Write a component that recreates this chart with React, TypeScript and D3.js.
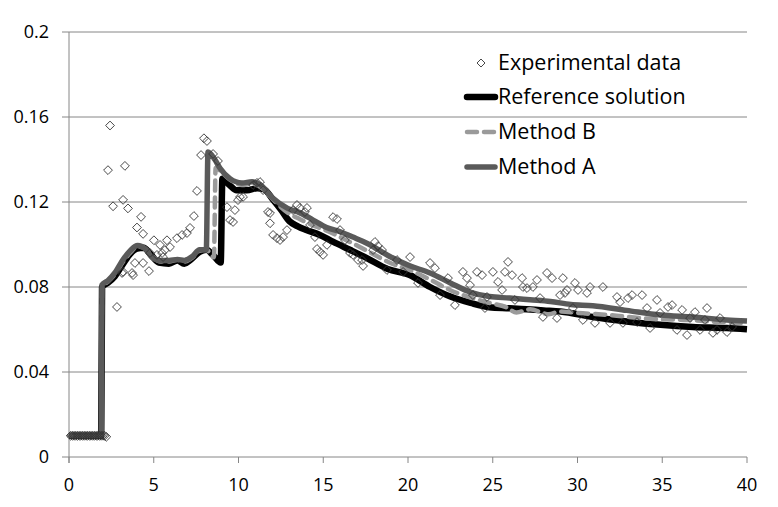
import React from "react";
import * as d3 from "d3";

// ---------- DATA ----------
const xTicks = [0, 5, 10, 15, 20, 25, 30, 35, 40];
const yTicks = [0, 0.04, 0.08, 0.12, 0.16, 0.2];
const yTickLabels = ["0", "0.04", "0.08", "0.12", "0.16", "0.2"];

const seriesNames = ["Experimental data", "Reference solution", "Method B", "Method A"];

const expX = [
  0.1, 0.2, 0.3, 0.4, 0.5, 0.6, 0.7, 0.8, 0.9, 1.0, 1.1, 1.2, 1.3, 1.4, 1.5, 1.6, 1.7, 1.8, 1.9, 2.0, 2.1, 2.2,
  2.42, 2.3, 3.3, 2.6, 3.19, 3.48, 4.25, 4.01, 4.37, 5.01, 5.37, 5.78, 5.96, 5.66, 6.37, 6.67, 6.96, 7.14, 7.37,
  7.55, 7.96, 8.14, 7.79, 8.5, 8.79, 9.32, 9.5, 9.68, 9.79, 9.97, 10.27, 10.86, 11.09, 11.27, 11.45,
  2.83, 3.78, 3.89, 3.19, 4.72, 4.37, 5.19, 5.55, 4.78, 5.49, 3.72, 3.13,
  10.09, 11.86, 11.86, 12.04, 12.27, 12.45, 12.63, 12.86, 13.22, 13.45, 13.63, 13.92, 14.04, 11.74,
  14.22, 14.51, 14.63, 14.81, 14.99, 15.22, 15.58, 15.81, 15.99, 16.28, 16.58, 16.76, 17.05, 17.29, 17.35,
  18.05, 18.23, 18.47, 17.94, 18.76, 19.35, 19.71, 20.12, 20.59, 21.3, 21.59, 21.89, 22.36, 22.77,
  23.24, 23.48, 23.66, 23.83, 24.07, 24.37, 24.54, 24.66, 25.01, 25.31, 25.55, 25.72, 25.9, 26.14, 26.31,
  26.73, 26.78, 27.02, 27.37, 27.61, 27.79, 27.96, 28.2, 28.5, 28.79, 28.97, 29.14, 29.38, 29.26, 29.85,
  30.03, 30.56, 30.74, 31.5, 29.73, 30.32, 31.03, 31.92, 32.33, 32.51, 32.98, 33.22, 33.81, 32.68, 33.51,
  34.1, 34.28, 34.69, 35.34, 35.58, 34.87, 35.87, 36.17, 36.46, 36.93, 37.23, 37.64, 37.99, 38.23, 38.41,
  38.82, 39.12, 37.52, 36.64,
];
const expY = [
  0.01, 0.01, 0.01, 0.01, 0.01, 0.01, 0.01, 0.01, 0.01, 0.01, 0.01, 0.01, 0.01, 0.01, 0.01, 0.01, 0.01, 0.01, 0.01, 0.01, 0.01, 0.0095,
  0.156, 0.135, 0.137, 0.118, 0.121, 0.117, 0.113, 0.108, 0.105, 0.102, 0.0998, 0.102, 0.0988, 0.0974, 0.103, 0.1045, 0.1054, 0.1078, 0.1134,
  0.1252, 0.15, 0.1487, 0.1421, 0.1426, 0.1393, 0.1176, 0.1115, 0.1106, 0.1162, 0.1209, 0.1224, 0.128, 0.129, 0.1294, 0.1256,
  0.0706, 0.0856, 0.0913, 0.0871, 0.0875, 0.0913, 0.0951, 0.0941, 0.096, 0.096, 0.0866, 0.0866,
  0.1224, 0.1148, 0.11, 0.1045, 0.103, 0.1021, 0.1035, 0.1068, 0.1162, 0.1186, 0.1172, 0.1153, 0.1172, 0.1153,
  0.1092, 0.1035, 0.0979, 0.0965, 0.0951, 0.0998, 0.1129, 0.112, 0.1068, 0.1021, 0.096, 0.0951, 0.0927, 0.0927, 0.0899,
  0.1012, 0.0993, 0.0974, 0.0974, 0.088, 0.0927, 0.0871, 0.0941, 0.0819, 0.0913, 0.0889, 0.0762, 0.0842, 0.0715,
  0.0871, 0.0842, 0.0809, 0.0762, 0.0871, 0.0856, 0.0701, 0.0753, 0.0871, 0.0824, 0.0786, 0.0871, 0.0918, 0.0856, 0.0739,
  0.0842, 0.08, 0.0795, 0.08, 0.0833, 0.0748, 0.0659, 0.0866, 0.0842, 0.0654, 0.0762, 0.0842, 0.0786, 0.0772, 0.0819,
  0.0786, 0.0772, 0.08, 0.08, 0.0701, 0.0645, 0.0631, 0.0631, 0.0753, 0.0729, 0.0748, 0.0762, 0.0762, 0.0631, 0.0635,
  0.0701, 0.0607, 0.0739, 0.0706, 0.0715, 0.0678, 0.0598, 0.0692, 0.0574, 0.0682, 0.0598, 0.0701, 0.0584, 0.0598, 0.0654,
  0.0588, 0.0612, 0.0645, 0.0654,
];

const refX = [
  0, 1.9, 1.95, 2.3, 2.7, 3.2, 3.6, 4.0, 4.4, 4.8, 5.3, 5.9, 6.4, 6.8, 7.2, 7.7, 8.1, 8.5, 8.95, 9.05, 9.4, 9.9,
  10.5, 11.1, 11.5, 12.0, 12.5, 13.0, 13.5, 14.0, 14.8, 15.6, 16.6, 17.6, 18.8, 20.1, 21.3, 22.5, 23.7, 24.8,
  26.0, 27.0, 28.0, 29.0, 30.9, 32.9, 34.9, 36.8, 38.8, 40,
];
const refY = [
  0.01, 0.01, 0.08, 0.082, 0.085, 0.091, 0.0955, 0.098, 0.0985, 0.0955, 0.0915, 0.091, 0.0925, 0.091, 0.093, 0.0965,
  0.0975, 0.095, 0.0915, 0.131, 0.1285, 0.1255, 0.1255, 0.1265, 0.126, 0.1215, 0.1165, 0.111, 0.1085, 0.1068,
  0.1045, 0.1012, 0.0974, 0.0935, 0.0885, 0.0856, 0.08, 0.0755, 0.0725, 0.0705, 0.07, 0.0695, 0.069, 0.0685,
  0.0659, 0.0638, 0.0622, 0.0612, 0.0607, 0.0601,
];

const aX = [
  0, 1.9, 1.95, 2.3, 2.7, 3.2, 3.6, 4.05, 4.5, 4.9, 5.4, 5.9, 6.4, 6.8, 7.3, 7.7, 8.1, 8.2, 8.6, 8.9, 9.5, 10.2,
  10.8, 11.3, 12.0, 12.9, 13.6, 14.4, 15.2, 16.0, 16.75, 17.6, 18.9, 20.1, 21.3, 22.5, 23.7, 24.8, 26.0, 27.2,
  28.4, 29.6, 30.9, 32.9, 34.9, 36.8, 38.8, 40,
];
const aY = [
  0.01, 0.01, 0.081, 0.083, 0.0866, 0.093, 0.097, 0.0995, 0.098, 0.094, 0.0925, 0.0925, 0.093, 0.0925, 0.0945,
  0.0975, 0.0975, 0.1435, 0.14, 0.136, 0.131, 0.129, 0.1295, 0.128, 0.122, 0.117, 0.115, 0.1115, 0.108, 0.106,
  0.1035, 0.1005, 0.0945, 0.09, 0.0866, 0.0819, 0.0775, 0.0755, 0.0748, 0.074, 0.0732, 0.0718, 0.0712, 0.069,
  0.0668, 0.0659, 0.0645, 0.064,
];

const bX = [
  0, 1.9, 1.95, 2.3, 2.7, 3.2, 3.6, 4.05, 4.5, 4.9, 5.4, 5.9, 6.4, 6.8, 7.3, 7.7, 8.1, 8.55, 8.65, 9.0, 9.5, 10.2,
  10.8, 11.3, 12.0, 12.9, 13.6, 14.4, 15.2, 16.0, 16.75, 17.6, 18.9, 20.1, 21.3, 22.5, 23.7, 24.8, 25.8, 26.4,
  27.2, 28.3, 29.0, 30.0, 31.9, 34.3, 36.5, 38.4, 40,
];
const bY = [
  0.01, 0.01, 0.08, 0.0825, 0.086, 0.092, 0.096, 0.099, 0.098, 0.0945, 0.092, 0.092, 0.0928, 0.092, 0.094, 0.097,
  0.0975, 0.094, 0.136, 0.134, 0.1305, 0.128, 0.1285, 0.127, 0.1215, 0.115, 0.112, 0.109, 0.1065, 0.1035, 0.1005,
  0.097, 0.0915, 0.088, 0.0835, 0.0785, 0.075, 0.0725, 0.0705, 0.068, 0.0695, 0.0672, 0.0685, 0.0678, 0.0668,
  0.065, 0.0645, 0.0635, 0.063,
];

// ---------- CHART ----------
const W = 778;
const H = 507;
const FONT = "'Open Sans', 'DejaVu Sans', sans-serif";

export default function App() {
  const x = d3.scaleLinear().domain([0, 40]).range([69, 747]);
  const y = d3.scaleLinear().domain([0, 0.2]).range([457, 32]);

  const line = d3
    .line<[number, number]>()
    .x((d) => x(d[0]))
    .y((d) => y(d[1]))
    .curve(d3.curveMonotoneX);

  const refPts = refX.map((v, i) => [v, refY[i]] as [number, number]);
  const aPts = aX.map((v, i) => [v, aY[i]] as [number, number]);
  const bPts = bX.map((v, i) => [v, bY[i]] as [number, number]);

  const diamond = (cx: number, cy: number, r: number) =>
    `M${cx},${cy - r}L${cx + r},${cy}L${cx},${cy + r}L${cx - r},${cy}Z`;

  const gridColor = "#868686";
  const legX0 = 465;
  const legX1 = 497;
  const legTextX = 498;
  const legY = [63, 97, 132, 167];

  return (
    <div>
      <style>{`body{margin:0}`}</style>
      <svg width={W} height={H} style={{ display: "block", background: "#fff" }}>
        {/* gridlines */}
        {yTicks.map((t) => (
          <line key={"g" + t} x1={62} x2={747} y1={y(t)} y2={y(t)} stroke={gridColor} strokeWidth={1} />
        ))}
        {/* y axis line */}
        <line x1={x(0)} x2={x(0)} y1={y(0.2)} y2={y(0) + 6} stroke={gridColor} strokeWidth={1} />
        {/* x ticks */}
        {xTicks.map((t) => (
          <line key={"xt" + t} x1={x(t)} x2={x(t)} y1={y(0)} y2={y(0) + 6} stroke={gridColor} strokeWidth={1} />
        ))}
        {/* y tick labels */}
        {yTicks.map((t, i) => (
          <text
            key={"yl" + t}
            x={49}
            y={y(t)}
            dy="0.36em"
            textAnchor="end"
            fontFamily={FONT}
            fontSize={18}
            fill="#000"
          >
            {yTickLabels[i]}
          </text>
        ))}
        {/* x tick labels */}
        {xTicks.map((t) => (
          <text
            key={"xl" + t}
            x={x(t)}
            y={491}
            textAnchor="middle"
            fontFamily={FONT}
            fontSize={18}
            fill="#000"
          >
            {t}
          </text>
        ))}

        {/* lines */}
        <path d={line(refPts) || ""} fill="none" stroke="#000" strokeWidth={6.5} strokeLinejoin="round" />
        <path
          d={line(bPts) || ""}
          fill="none"
          stroke="#9a9a9a"
          strokeWidth={4.5}
          strokeDasharray="10,7"
          strokeLinecap="round"
        />
        <path d={line(aPts) || ""} fill="none" stroke="#5a5a5a" strokeWidth={5.5} strokeLinejoin="round" />

        {/* experimental points */}
        {expX.map((v, i) => (
          <path key={"e" + i} d={diamond(x(v), y(expY[i]), 4.4)} fill="none" stroke="#333" strokeWidth={0.9} />
        ))}

        {/* legend */}
        <path d={diamond(481, legY[0], 4)} fill="none" stroke="#333" strokeWidth={0.9} />
        <line x1={legX0 + 2} x2={legX1 - 2} y1={legY[1]} y2={legY[1]} stroke="#000" strokeWidth={6.5} strokeLinecap="round" />
        <line
          x1={legX0 + 2}
          x2={legX1 - 2}
          y1={legY[2]}
          y2={legY[2]}
          stroke="#9a9a9a"
          strokeWidth={4.5}
          strokeDasharray="10,7"
          strokeLinecap="round"
        />
        <line x1={legX0 + 2} x2={legX1 - 2} y1={legY[3]} y2={legY[3]} stroke="#5a5a5a" strokeWidth={5.5} strokeLinecap="round" />
        {seriesNames.map((n, i) => (
          <text key={n} x={legTextX} y={legY[i] + 7} fontFamily={FONT} fontSize={21.5} fill="#000">
            {n}
          </text>
        ))}
      </svg>
    </div>
  );
}
